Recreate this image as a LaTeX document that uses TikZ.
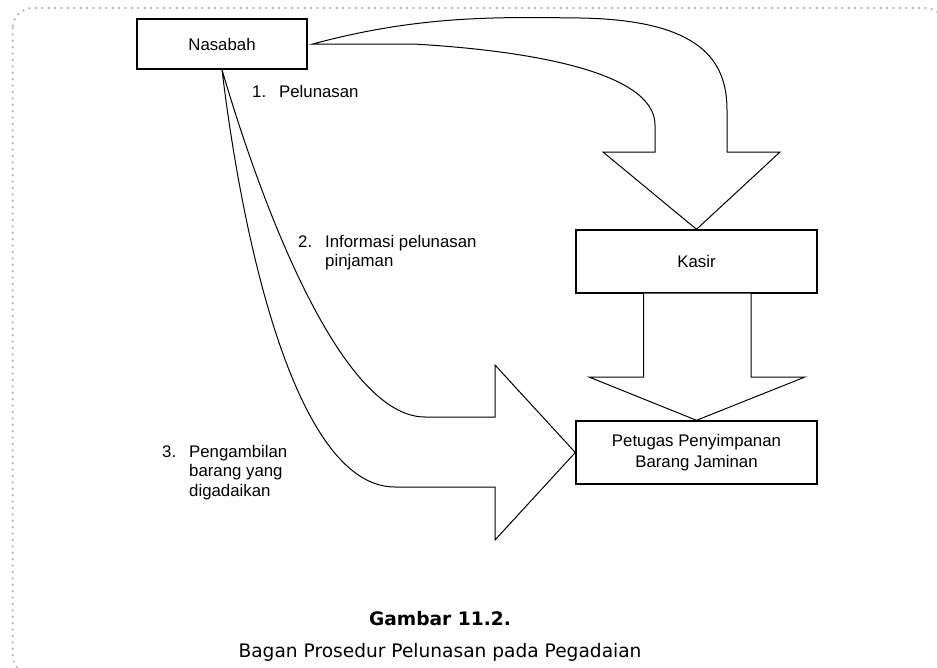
\documentclass[tikz,border=0pt]{standalone}
\usepackage{fontspec}
\setmainfont{Liberation Sans}
\newfontfamily\capfont{DejaVu Sans}
\usetikzlibrary{calc}
\tikzset{
  unitbox/.style={draw, line width=1.4pt, rectangle, inner sep=0pt, align=center, font=\fontsize{16.8}{20.5}\selectfont},
  blockarrow/.style={draw, fill=white, line width=1pt, line join=miter},
  lbl/.style={inner sep=0pt, anchor=base west, font=\fontsize{16.8}{19.5}\selectfont},
  captxt/.style={inner sep=0pt, anchor=base, font=\capfont\fontsize{18.6}{22}\selectfont},
}
\newcommand{\numlabel}[2]{\begin{tabular}[t]{@{}p{27pt}@{}l@{}}#1 & #2\end{tabular}}

\begin{document}
\begin{tikzpicture}[x=1pt, y=-1pt]
\useasboundingbox (0,0) rectangle (937,667);
% frame
\draw[gray!55, line width=2.6pt, line cap=round, dash pattern=on 0pt off 6.4pt, rounded corners=20pt] (12.7,8) rectangle (945,675);

% boxes
\node[unitbox, minimum width=170pt, minimum height=50pt] (nasabah) at (222,44) {Nasabah};
\node[unitbox, minimum width=241pt, minimum height=63pt] (kasir) at (696.5,261.5) {Kasir};
\node[unitbox, minimum width=241pt, minimum height=63pt] (petugas) at (696.5,452.5) {Petugas Penyimpanan\\Barang Jaminan};

% 1. nasabah -> kasir
\coordinate (a1) at ($(nasabah.east)+(5,0)$);
\draw[blockarrow] (a1) .. controls (420,15) and (500,17) .. (580,18)
  .. controls (700,20) and (727,60) .. (727,110) -- (727,152) -- (780,152)
  -- (kasir.north) -- (603,152) -- (655,152) -- (655,125)
  .. controls (655,70) and (520,50) .. (413,44) -- cycle;

% 2. kasir -> petugas
\draw[blockarrow] ([xshift=-53pt]kasir.south) -- (643.5,377) -- (589,377) -- (petugas.north)
  -- (805,377) -- (751,377) -- ([xshift=54.5pt]kasir.south);

% 3. nasabah -> petugas
\draw[blockarrow] (nasabah.south) .. controls (260,200) and (340,417) .. (425,417)
  -- (495,417) -- (495,365) -- (petugas.west) -- (495,540) -- (495,487) -- (395,487)
  .. controls (300,487) and (245,260) .. (nasabah.south);

% labels
\node[lbl] (lab1) at (252,97) {\numlabel{1.}{Pelunasan}};
\node[lbl] (lab2) at (298,247) {\numlabel{2.}{Informasi pelunasan\\ & pinjaman}};
\node[lbl] (lab3) at (162,457) {\numlabel{3.}{Pengambilan\\ & barang yang\\ & digadaikan}};

% caption
\node[captxt] (cap1) at (440,625) {\bfseries Gambar 11.2.};
\node[captxt] (cap2) at (440,657) {Bagan Prosedur Pelunasan pada Pegadaian};
\end{tikzpicture}
\end{document}
